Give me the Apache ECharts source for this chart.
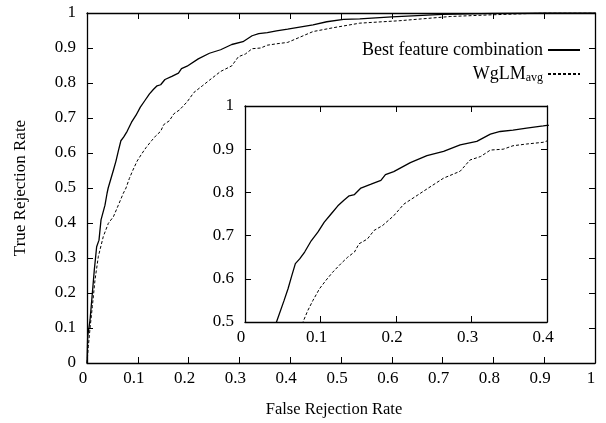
<!DOCTYPE html>
<html>
<head>
<meta charset="utf-8">
<script src="https://cdn.jsdelivr.net/npm/echarts@6/dist/echarts.min.js"></script>
<style>
  html, body { margin: 0; padding: 0; background: #fff; }
  #chart { width: 606px; height: 423px; }
</style>
</head>
<body>
<div id="chart"></div>
<script>
// [false rejection rate, true rejection rate]
const bestCombo = [
    [0, 0], [0.0013, 0.075], [0.006, 0.123], [0.0105, 0.199], [0.0144, 0.266],
    [0.019, 0.332], [0.0236, 0.351], [0.0276, 0.409], [0.0354, 0.451], [0.0395, 0.485],
    [0.0417, 0.5], [0.0518, 0.55], [0.057, 0.577], [0.0614, 0.604], [0.0667, 0.635],
    [0.0724, 0.646], [0.079, 0.662], [0.0877, 0.688], [0.0965, 0.708], [0.105, 0.731],
    [0.114, 0.75], [0.123, 0.769], [0.131, 0.782], [0.138, 0.792], [0.145, 0.795],
    [0.1535, 0.81], [0.167, 0.819], [0.18, 0.828], [0.186, 0.841], [0.197, 0.848],
    [0.219, 0.869], [0.241, 0.885], [0.263, 0.895], [0.285, 0.91], [0.307, 0.918],
    [0.325, 0.935], [0.338, 0.941], [0.355, 0.944], [0.373, 0.949], [0.395, 0.954],
    [0.445, 0.966], [0.472, 0.975], [0.505, 0.982], [0.537, 0.983], [0.6, 0.989],
    [0.7, 0.996], [0.8, 0.999], [0.9, 1.0], [1, 1]
]
const wglmAvg = [
    [0, 0], [0.0026, 0.047], [0.006, 0.10], [0.0105, 0.161], [0.0157, 0.237],
    [0.0223, 0.304], [0.032, 0.361], [0.042, 0.399], [0.052, 0.418], [0.0617, 0.451],
    [0.0715, 0.485], [0.0768, 0.5], [0.0833, 0.527], [0.09, 0.55], [0.0987, 0.577],
    [0.107, 0.596], [0.116, 0.615], [0.127, 0.635], [0.136, 0.65], [0.145, 0.662],
    [0.151, 0.681], [0.162, 0.692], [0.171, 0.712], [0.182, 0.723], [0.197, 0.746],
    [0.2105, 0.773], [0.228, 0.793], [0.241, 0.808], [0.263, 0.833], [0.285, 0.849],
    [0.298, 0.875], [0.312, 0.883], [0.325, 0.898], [0.342, 0.9], [0.355, 0.908],
    [0.373, 0.912], [0.395, 0.916], [0.445, 0.947], [0.485, 0.958], [0.537, 0.971],
    [0.616, 0.978], [0.715, 0.99], [0.8, 0.995], [0.9, 1.0], [1, 1]
]
const seriesNames = ['Best feature combination', 'WgLM']

const font = '"Liberation Serif"'

function axis(grid, pos, min, max, labels) {
    return {
        type: 'value',
        gridIndex: grid,
        position: pos,
        min: min,
        max: max,
        interval: 0.1,
        axisLine: {show: true, onZero: false, lineStyle: {color: '#000', width: 1.3}},
        axisTick: {show: true, inside: true, length: 6, lineStyle: {color: '#000', width: 1}},
        splitLine: {show: false},
        axisLabel: {
            show: labels,
            color: '#000',
            fontFamily: font,
            fontSize: 17,
            margin: (pos === 'left') ? 11 : 7,
            padding: (pos === 'bottom') ? [0, 8, 0, 0] : 0
        }
    }
}

function line(name, data, xi, dashed) {
    return {
        name: name,
        type: 'line',
        data: data,
        xAxisIndex: xi,
        yAxisIndex: xi,
        showSymbol: false,
        symbol: 'none',
        clip: true,
        itemStyle: {color: '#000'},
        lineStyle: {
            color: '#000',
            width: dashed ? 1 : 1.3,
            type: dashed ? [3, 2] : 'solid'
        }
    }
}

function legendBox(name, top, extra) {
    return Object.assign({
        data: [name],
        right: 25,
        top: top,
        bottom: 'auto',
        orient: 'vertical',
        align: 'right',
        padding: 0,
        itemWidth: 32,
        itemHeight: 14,
        itemGap: 0,
        itemStyle: {opacity: 0},
        textStyle: {fontFamily: font, fontSize: 18, color: '#000'}
    }, extra || {})
}

let chart = echarts.init(document.getElementById('chart'))
chart.setOption({
    animation: false,
    backgroundColor: '#fff',
    grid: [
        {left: 87, right: 11, top: 13, bottom: 60},
        {left: 245, right: 59, top: 106, bottom: 101, show: true, backgroundColor: '#fff', borderWidth: 0}
    ],
    legend: [
        legendBox(seriesNames[0], 41),
        legendBox(seriesNames[1], 65, {
            formatter: '{a|WgLM}{b|avg}',
            textStyle: {
                fontFamily: font, fontSize: 18, color: '#000',
                rich: {
                    a: {fontFamily: font, fontSize: 18, color: '#000'},
                    b: {fontFamily: font, fontSize: 12, color: '#000', padding: [8, 0, 0, 0]}
                }
            }
        })
    ],
    xAxis: [
        axis(0, 'bottom', 0, 1, true),
        axis(0, 'top', 0, 1, false),
        axis(1, 'bottom', 0, 0.4, true),
        axis(1, 'top', 0, 0.4, false)
    ],
    yAxis: [
        axis(0, 'left', 0, 1, true),
        axis(0, 'right', 0, 1, false),
        axis(1, 'left', 0.5, 1, true),
        axis(1, 'right', 0.5, 1, false)
    ],
    graphic: [
        {
            type: 'text', rotation: Math.PI / 2, x: 21, y: 188,
            style: {text: 'True Rejection Rate', font: '17px "Liberation Serif"', fill: '#000',
                    textAlign: 'center', textVerticalAlign: 'middle'}
        },
        {
            type: 'text', x: 334, y: 410,
            style: {text: 'False Rejection Rate', font: '16.5px "Liberation Serif"', fill: '#000',
                    textAlign: 'center', textVerticalAlign: 'middle'}
        }
    ],
    series: [
        line(seriesNames[0], bestCombo, 0, false),
        line(seriesNames[1], wglmAvg, 0, true),
        line(seriesNames[0], bestCombo, 2, false),
        line(seriesNames[1], wglmAvg, 2, true)
    ]
})
</script>
</body>
</html>
